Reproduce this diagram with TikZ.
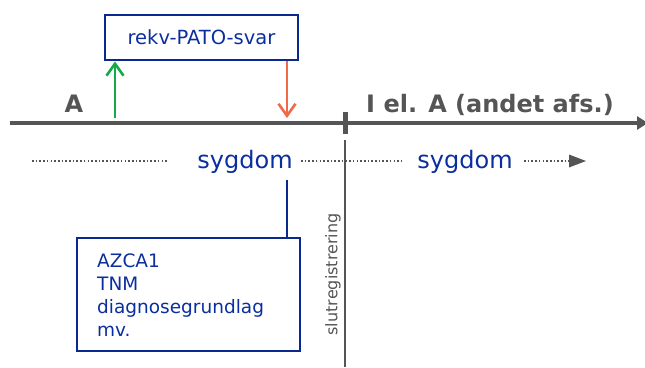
\documentclass[tikz,border=0pt]{standalone}
\usepackage{fontspec}
\setmainfont{DejaVu Sans}
\usetikzlibrary{arrows.meta}
\definecolor{dblue}{HTML}{0B2E9E}
\definecolor{bline}{HTML}{0A2890}
\definecolor{gline}{HTML}{555555}
\definecolor{grn}{HTML}{14AA48}
\definecolor{org}{HTML}{F06A4A}
\tikzset{
  bluebox/.style={draw=bline,line width=2.9pt,rectangle,inner sep=0pt},
  bluetxt/.style={text=dblue,inner sep=0pt},
  axislbl/.style={text=gline,font=\fontsize{24}{26}\selectfont\bfseries,inner sep=0pt},
  dotline/.style={gline,line width=2pt,dash pattern=on 1.6pt off 2.1pt},
}
\begin{document}
\begin{tikzpicture}[x=1pt,y=-1pt]
\useasboundingbox (0,0) rectangle (645,367);
% main axis
\coordinate (ax0) at (10,123);
\coordinate (ax1) at (648,123);
\draw[gline,line width=3.2pt,-{Triangle[length=11pt,width=13pt]}] (ax0) -- (ax1);
\coordinate (tk0) at (345,112);
\coordinate (tk1) at (345,134);
\draw[gline,line width=5pt] (tk0) -- (tk1);
\coordinate (vl0) at (345,140);
\coordinate (vl1) at (345,367);
\draw[gline,line width=2.8pt] (vl0) -- (vl1);
% axis labels
\node[axislbl,anchor=base] (lA) at (74,112) {A};
\node[axislbl,anchor=base] (lI) at (490,112) {I el. A (andet afs.)};
% top box
\node[bluebox,minimum width=193pt,minimum height=45pt] (box1) at (201.5,37.5) {};
\node[bluetxt,font=\fontsize{19.5}{21}\selectfont] (t1) at (box1.center) {rekv-PATO-svar};
% arrows
\coordinate (g0) at (115,118);
\draw[grn,line width=2.6pt,-{Straight Barb[length=12pt,width=17pt]}] (g0) -- (g0 |- box1.south);
\coordinate (o1) at (287,118);
\draw[org,line width=2.6pt,-{Straight Barb[length=12pt,width=17pt]}] (o1 |- box1.south) -- (o1);
% sygdom row
\node[bluetxt,font=\fontsize{24}{26}\selectfont,anchor=base] (s1) at (245,168) {sygdom};
\node[bluetxt,font=\fontsize{24}{26}\selectfont,anchor=base] (s2) at (465,168) {sygdom};
\coordinate (d0) at (32,161);
\coordinate (d1) at (168,161);
\draw[dotline] (d0) -- (d1);
\coordinate (d2) at (301,161);
\coordinate (d3) at (402,161);
\draw[dotline] (d2) -- (d3);
\coordinate (d4) at (524,161);
\coordinate (d5) at (569,161);
\coordinate (d6) at (586,161);
\draw[dotline] (d4) -- (d5);
\fill[gline] (d5) ++(0,-6.5) -- (d6) -- ++(-17,6.5) -- cycle;
% lower box
\node[bluebox,minimum width=223pt,minimum height=113pt] (box2) at (188.5,294.5) {};
\coordinate (c0) at (287,180);
\draw[bline,line width=2.9pt] (c0) -- (c0 |- box2.north);
\node[bluetxt,font=\fontsize{18.5}{22.7}\selectfont,align=left,anchor=base west] (t2) at (97,336) {AZCA1\\TNM\\diagnosegrundlag\\mv.};
% vertical label
\node[text=gline,font=\fontsize{16}{18}\selectfont,rotate=90,inner sep=0pt] (sl) at (333,274.5) {slutregistrering};
\end{tikzpicture}
\end{document}
